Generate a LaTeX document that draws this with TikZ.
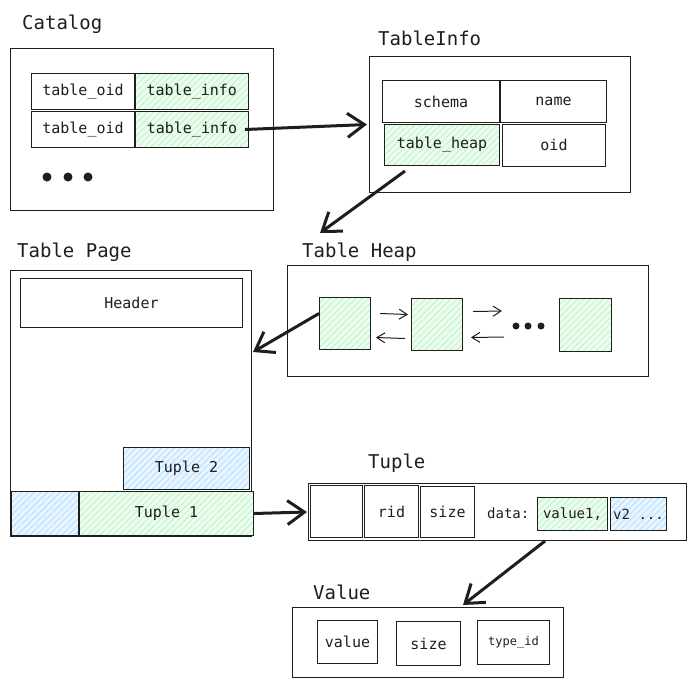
\documentclass[tikz,border=0pt]{standalone}
\usepackage{fontspec}
\setmonofont{DejaVu Sans Mono}
\usetikzlibrary{arrows.meta,positioning,patterns.meta}

\definecolor{ink}{HTML}{1E1E1E}
\definecolor{hatchgreen}{HTML}{B2F2BB}
\definecolor{hatchblue}{HTML}{A5D8FF}

\tikzset{
  box/.style={draw=ink,line width=1pt,inner sep=0pt,anchor=north west},
  cell/.style={draw=ink,line width=1pt,inner sep=0pt,text=ink,font=\ttfamily\fontsize{15}{15}\selectfont},
  hatch/.style={pattern={Lines[angle=45,distance=4.5pt,line width=0.6pt]}},
  greencell/.style={cell,preaction={fill=hatchgreen!25},hatch,pattern color=hatchgreen},
  bluecell/.style={cell,preaction={fill=hatchblue!25},hatch,pattern color=hatchblue},
  title/.style={anchor=base west,inner sep=0pt,text=ink,font=\ttfamily\fontsize{19}{19}\selectfont},
  bigarrow/.style={draw=ink,-{Straight Barb[length=17pt,width=24pt,line width=3pt]},line width=3pt},
  thinarrow/.style={draw=ink,-{Straight Barb[length=8pt,width=10pt]},line width=1pt},
}

\begin{document}
\begin{tikzpicture}[x=1pt,y=-1pt]
    \useasboundingbox (0,0) rectangle (696,686);

    % catalog
    \node[title] at (22,29) {Catalog};
    \node[box,minimum width=263,minimum height=162] (catalog) at (10,48) {};
    \node[cell,anchor=north west,minimum width=103,minimum height=36] (oid1) at (31,73) {table\_oid};
    \node[greencell,minimum width=113,minimum height=36,right=0pt of oid1] (info1) {table\_info};
    \node[cell,minimum width=103,minimum height=36,below=1pt of oid1] (oid2) {table\_oid};
    \node[greencell,minimum width=113,minimum height=36,right=0pt of oid2] (info2) {table\_info};
    \foreach \x in {47,68,88}
        \fill[ink] (\x,177) circle (4.5);

    % table info
    \node[title] at (378,45) {TableInfo};
    \node[box,minimum width=261,minimum height=136] (tableinfo) at (369,56) {};
    \node[cell,anchor=north west,minimum width=117,minimum height=42] (schema) at (382,80) {schema};
    \node[cell,minimum width=106,minimum height=42,right=0pt of schema] (name) {name};
    \node[greencell,anchor=north west,minimum width=115,minimum height=41] (heap) at (384,124) {table\_heap};
    \node[cell,minimum width=103,minimum height=42,right=2pt of heap] (oid) {oid};

    % table page
    \node[title] at (17,257) {Table Page};
    \node[box,minimum width=241,minimum height=266] (page) at (10,270) {};
    \node[cell,anchor=north west,minimum width=222,minimum height=49] (header) at (20,278) {Header};
    \node[bluecell,anchor=north west,minimum width=126,minimum height=42] (tuple2) at (123,447) {Tuple 2};
    \node[bluecell,anchor=north west,minimum width=67,minimum height=44] (slot) at (11,491) {};
    \node[greencell,minimum width=174,minimum height=44,right=0pt of slot] (tuple1) {Tuple 1};

    % table heap
    \node[title] at (302,257) {Table Heap};
    \node[box,minimum width=361,minimum height=111] (tableheap) at (287,265) {};
    \node[greencell,anchor=north west,minimum width=51,minimum height=52] (page1) at (319,297) {};
    \node[greencell,anchor=north west,minimum width=51,minimum height=52] (page2) at (411,298) {};
    \node[greencell,anchor=north west,minimum width=52,minimum height=53] (page3) at (559,298) {};
    \coordinate (heapdots) at (528,326);
    \foreach \x in {-12,0,13}
        \fill[ink] ([xshift=\x]heapdots) circle (3.5);

    \draw[thinarrow] ([shift={(9,-10)}]page1.east) -- ([shift={(-3,-10)}]page2.east -| page2.west);
    \draw[thinarrow] ([shift={(-6,14)}]page2.west) -- ([shift={(5,14)}]page1.east);
    \draw[thinarrow] ([shift={(10,-13)}]page2.east) -- ([shift={(-26,-15)}]heapdots);
    \draw[thinarrow] ([shift={(-24,11)}]heapdots) -- ([shift={(8,13)}]page2.east);

    % tuple
    \node[title] at (368,468) {Tuple};
    \node[box,minimum width=378,minimum height=57] (tuple) at (308,483) {};
    \node[cell,anchor=north west,minimum width=52,minimum height=52] (hdr) at (310,485) {};
    \node[cell,minimum width=54,minimum height=52,right=1pt of hdr] (rid) {rid};
    \node[cell,minimum width=54,minimum height=51,right=1pt of rid] (size) {size};
    \node[anchor=west,inner sep=0pt,text=ink,font=\ttfamily\fontsize{14}{14}\selectfont] (data) at (487,513) {data:};
    \node[greencell,anchor=north west,minimum width=70,minimum height=33,font=\ttfamily\fontsize{14}{14}\selectfont] (val1) at (537,497) {value1,};
    \node[bluecell,minimum width=56,minimum height=33,right=2pt of val1,font=\ttfamily\fontsize{14}{14}\selectfont] (val2) {v2 ...};

    % value
    \node[title] at (313,599) {Value};
    \node[box,minimum width=271,minimum height=70] (value) at (292,607) {};
    \node[cell,anchor=north west,minimum width=60,minimum height=43] (vdata) at (317,620) {value};
    \node[cell,anchor=north west,minimum width=64,minimum height=44] (vsize) at (396,621) {size};
    \node[cell,anchor=north west,minimum width=72,minimum height=44,font=\ttfamily\fontsize{12}{12}\selectfont] (vtype) at (477,620) {type\_id};

    % links
    \coordinate (heapin) at (320,233);
    \coordinate (pagein) at (253,352);
    \draw[bigarrow] ([xshift=-4pt]info2.east) -- ([xshift=-2pt]tableinfo.west);
    \draw[bigarrow] ([shift={(21,5)}]heap.south west) -- (heapin);
    \draw[bigarrow] ([yshift=10]page1.west) -- (pagein);
    \draw[bigarrow] (tuple1.east) -- ([xshift=-1pt]tuple.west);
    \draw[bigarrow] ([shift={(8,10)}]val1.south west) -- ([shift={(35,-2)}]value.north);

\end{tikzpicture}
\end{document}
